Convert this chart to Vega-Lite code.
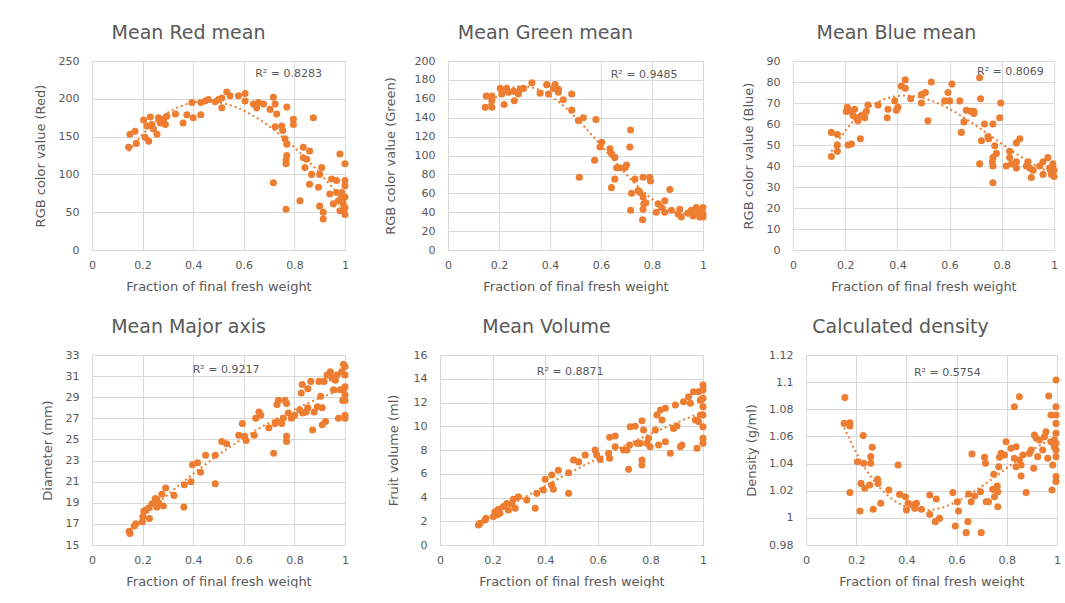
{
  "$schema": "https://vega.github.io/schema/vega-lite/v6.json",
  "background": "white",
  "padding": {"left": 34, "top": 24, "right": 0, "bottom": 0},
  "spacing": 25,
  "datasets": {
    "red": [
      {"x":0.145,"y":136},{"x":0.15,"y":153},{"x":0.17,"y":157},{"x":0.175,"y":141},{"x":0.204,"y":172},{"x":0.217,"y":164},{"x":0.21,"y":149},{"x":0.224,"y":144},{"x":0.23,"y":176},{"x":0.237,"y":166},{"x":0.243,"y":160},{"x":0.257,"y":153},{"x":0.263,"y":175},{"x":0.27,"y":168},{"x":0.283,"y":173},{"x":0.29,"y":166},{"x":0.296,"y":177},{"x":0.33,"y":180},{"x":0.36,"y":168},{"x":0.375,"y":179},{"x":0.395,"y":195},{"x":0.4,"y":175},{"x":0.43,"y":179},{"x":0.43,"y":195},{"x":0.447,"y":197},{"x":0.46,"y":199},{"x":0.487,"y":196},{"x":0.5,"y":199},{"x":0.513,"y":188},{"x":0.533,"y":209},{"x":0.513,"y":201},{"x":0.546,"y":204},{"x":0.579,"y":204},{"x":0.605,"y":207},{"x":0.605,"y":197},{"x":0.638,"y":193},{"x":0.651,"y":188},{"x":0.658,"y":195},{"x":0.678,"y":193},{"x":0.704,"y":186},{"x":0.717,"y":202},{"x":0.724,"y":193},{"x":0.73,"y":180},{"x":0.724,"y":163},{"x":0.75,"y":164},{"x":0.754,"y":158},{"x":0.763,"y":147},{"x":0.77,"y":189},{"x":0.77,"y":140},{"x":0.77,"y":125},{"x":0.767,"y":119},{"x":0.767,"y":114},{"x":0.717,"y":89},{"x":0.767,"y":54},{"x":0.796,"y":173},{"x":0.796,"y":166},{"x":0.822,"y":65},{"x":0.835,"y":136},{"x":0.835,"y":122},{"x":0.842,"y":109},{"x":0.849,"y":120},{"x":0.86,"y":131},{"x":0.868,"y":100},{"x":0.86,"y":87},{"x":0.875,"y":175},{"x":0.895,"y":83},{"x":0.9,"y":100},{"x":0.908,"y":109},{"x":0.9,"y":58},{"x":0.914,"y":50},{"x":0.914,"y":41},{"x":0.94,"y":74},{"x":0.947,"y":94},{"x":0.954,"y":61},{"x":0.967,"y":92},{"x":0.967,"y":76},{"x":0.974,"y":65},{"x":0.98,"y":127},{"x":0.987,"y":70},{"x":0.993,"y":52},{"x":1,"y":114},{"x":1,"y":92},{"x":1,"y":85},{"x":1,"y":70},{"x":1,"y":56},{"x":1,"y":47},{"x":0.993,"y":61},{"x":0.98,"y":52},{"x":0.987,"y":76}
    ],
    "green": [
      {"x":0.146,"y":151},{"x":0.15,"y":163},{"x":0.172,"y":163},{"x":0.172,"y":158},{"x":0.172,"y":151},{"x":0.205,"y":171},{"x":0.211,"y":165},{"x":0.22,"y":154},{"x":0.23,"y":171},{"x":0.237,"y":167},{"x":0.257,"y":168},{"x":0.26,"y":158},{"x":0.276,"y":165},{"x":0.283,"y":170},{"x":0.296,"y":171},{"x":0.329,"y":177},{"x":0.361,"y":166},{"x":0.387,"y":175},{"x":0.394,"y":165},{"x":0.413,"y":171},{"x":0.42,"y":175},{"x":0.433,"y":170},{"x":0.433,"y":167},{"x":0.452,"y":159},{"x":0.485,"y":165},{"x":0.485,"y":148},{"x":0.511,"y":137},{"x":0.531,"y":140},{"x":0.515,"y":77},{"x":0.575,"y":95},{"x":0.58,"y":138},{"x":0.596,"y":109},{"x":0.603,"y":114},{"x":0.635,"y":107},{"x":0.641,"y":102},{"x":0.654,"y":98},{"x":0.661,"y":87},{"x":0.654,"y":75},{"x":0.641,"y":66},{"x":0.674,"y":87},{"x":0.694,"y":87},{"x":0.7,"y":90},{"x":0.716,"y":127},{"x":0.713,"y":109},{"x":0.72,"y":60},{"x":0.716,"y":42},{"x":0.733,"y":75},{"x":0.746,"y":63},{"x":0.752,"y":61},{"x":0.765,"y":56},{"x":0.765,"y":77},{"x":0.768,"y":49},{"x":0.765,"y":43},{"x":0.763,"y":32},{"x":0.791,"y":77},{"x":0.794,"y":73},{"x":0.776,"y":50},{"x":0.817,"y":40},{"x":0.824,"y":49},{"x":0.837,"y":45},{"x":0.85,"y":52},{"x":0.85,"y":40},{"x":0.87,"y":64},{"x":0.876,"y":42},{"x":0.902,"y":38},{"x":0.909,"y":43},{"x":0.915,"y":35},{"x":0.941,"y":39},{"x":0.954,"y":42},{"x":0.961,"y":36},{"x":0.974,"y":45},{"x":0.98,"y":40},{"x":0.987,"y":35},{"x":0.993,"y":42},{"x":1,"y":45},{"x":1,"y":38},{"x":1,"y":35},{"x":0.993,"y":37}
    ],
    "blue": [
      {"x":0.147,"y":44.5},{"x":0.147,"y":56},{"x":0.17,"y":55},{"x":0.17,"y":50},{"x":0.17,"y":47},{"x":0.204,"y":66},{"x":0.208,"y":68},{"x":0.211,"y":50},{"x":0.224,"y":50.5},{"x":0.224,"y":66},{"x":0.23,"y":64},{"x":0.236,"y":67},{"x":0.243,"y":63},{"x":0.249,"y":61.5},{"x":0.262,"y":64},{"x":0.258,"y":53},{"x":0.275,"y":63},{"x":0.281,"y":66},{"x":0.287,"y":69},{"x":0.326,"y":69},{"x":0.364,"y":67},{"x":0.361,"y":63},{"x":0.39,"y":71},{"x":0.396,"y":66.5},{"x":0.402,"y":68},{"x":0.415,"y":78},{"x":0.43,"y":81},{"x":0.43,"y":77},{"x":0.451,"y":72},{"x":0.492,"y":70},{"x":0.492,"y":74},{"x":0.507,"y":75},{"x":0.517,"y":61.5},{"x":0.53,"y":80},{"x":0.581,"y":71},{"x":0.594,"y":75},{"x":0.6,"y":71},{"x":0.609,"y":79},{"x":0.639,"y":71},{"x":0.645,"y":56},{"x":0.655,"y":61},{"x":0.664,"y":66.5},{"x":0.683,"y":66},{"x":0.693,"y":66},{"x":0.693,"y":65},{"x":0.715,"y":82},{"x":0.719,"y":72},{"x":0.715,"y":41},{"x":0.722,"y":52},{"x":0.734,"y":60},{"x":0.747,"y":54},{"x":0.75,"y":53},{"x":0.766,"y":60},{"x":0.773,"y":49.6},{"x":0.766,"y":44},{"x":0.764,"y":42},{"x":0.766,"y":40},{"x":0.766,"y":32},{"x":0.779,"y":46},{"x":0.792,"y":63},{"x":0.796,"y":70},{"x":0.817,"y":40},{"x":0.83,"y":47},{"x":0.83,"y":44},{"x":0.837,"y":41},{"x":0.856,"y":42},{"x":0.856,"y":51},{"x":0.869,"y":53},{"x":0.856,"y":39},{"x":0.894,"y":40},{"x":0.9,"y":42},{"x":0.907,"y":39},{"x":0.913,"y":34.5},{"x":0.92,"y":38},{"x":0.945,"y":40},{"x":0.958,"y":42},{"x":0.958,"y":36},{"x":0.977,"y":44},{"x":0.983,"y":39},{"x":0.99,"y":36},{"x":0.996,"y":41},{"x":1,"y":38},{"x":1,"y":35},{"x":0.996,"y":39}
    ],
    "major": [
      {"x":0.147,"y":16.3},{"x":0.15,"y":16.1},{"x":0.167,"y":16.8},{"x":0.173,"y":17.0},{"x":0.199,"y":17.2},{"x":0.201,"y":17.7},{"x":0.205,"y":18.2},{"x":0.212,"y":18.3},{"x":0.224,"y":18.5},{"x":0.227,"y":17.5},{"x":0.237,"y":18.9},{"x":0.25,"y":19.4},{"x":0.256,"y":19.3},{"x":0.256,"y":18.6},{"x":0.263,"y":19.0},{"x":0.276,"y":19.8},{"x":0.282,"y":18.7},{"x":0.291,"y":20.4},{"x":0.324,"y":19.7},{"x":0.363,"y":18.6},{"x":0.365,"y":20.7},{"x":0.391,"y":21.0},{"x":0.397,"y":22.6},{"x":0.417,"y":22.8},{"x":0.429,"y":21.9},{"x":0.449,"y":23.5},{"x":0.487,"y":23.5},{"x":0.487,"y":20.8},{"x":0.513,"y":24.8},{"x":0.532,"y":24.6},{"x":0.58,"y":25.4},{"x":0.594,"y":26.5},{"x":0.603,"y":25.3},{"x":0.609,"y":24.9},{"x":0.641,"y":25.4},{"x":0.647,"y":27.0},{"x":0.66,"y":27.6},{"x":0.667,"y":27.3},{"x":0.699,"y":26.1},{"x":0.718,"y":23.7},{"x":0.724,"y":26.5},{"x":0.731,"y":26.7},{"x":0.731,"y":28.3},{"x":0.737,"y":28.7},{"x":0.75,"y":26.5},{"x":0.756,"y":27.0},{"x":0.763,"y":28.7},{"x":0.769,"y":25.3},{"x":0.769,"y":24.8},{"x":0.769,"y":28.4},{"x":0.776,"y":27.5},{"x":0.788,"y":27.0},{"x":0.801,"y":27.3},{"x":0.821,"y":27.8},{"x":0.827,"y":29.4},{"x":0.831,"y":30.2},{"x":0.833,"y":27.5},{"x":0.846,"y":27.6},{"x":0.853,"y":28.0},{"x":0.853,"y":29.8},{"x":0.865,"y":30.5},{"x":0.872,"y":25.9},{"x":0.878,"y":27.6},{"x":0.891,"y":28.1},{"x":0.897,"y":30.5},{"x":0.904,"y":29.1},{"x":0.91,"y":28.0},{"x":0.91,"y":26.4},{"x":0.917,"y":30.5},{"x":0.923,"y":26.7},{"x":0.929,"y":31.1},{"x":0.942,"y":31.4},{"x":0.949,"y":30.8},{"x":0.955,"y":29.7},{"x":0.962,"y":30.6},{"x":0.968,"y":31.1},{"x":0.974,"y":27.0},{"x":0.981,"y":29.7},{"x":0.987,"y":31.4},{"x":0.991,"y":28.7},{"x":0.994,"y":32.1},{"x":1,"y":31.9},{"x":1,"y":31.1},{"x":1,"y":30.0},{"x":1,"y":29.2},{"x":1,"y":28.7},{"x":1,"y":27.3},{"x":1,"y":27.0},{"x":0.994,"y":29.7}
    ],
    "volume": [
      {"x":0.146,"y":1.68},{"x":0.152,"y":1.82},{"x":0.171,"y":2.1},{"x":0.175,"y":2.25},{"x":0.203,"y":2.39},{"x":0.209,"y":2.8},{"x":0.216,"y":2.53},{"x":0.222,"y":3.0},{"x":0.228,"y":2.67},{"x":0.241,"y":3.23},{"x":0.254,"y":3.5},{"x":0.26,"y":2.95},{"x":0.273,"y":3.5},{"x":0.279,"y":3.85},{"x":0.286,"y":3.09},{"x":0.298,"y":4.07},{"x":0.33,"y":3.79},{"x":0.362,"y":3.09},{"x":0.368,"y":4.35},{"x":0.393,"y":4.63},{"x":0.4,"y":5.53},{"x":0.425,"y":5.9},{"x":0.425,"y":5.05},{"x":0.431,"y":4.69},{"x":0.45,"y":6.3},{"x":0.489,"y":6.09},{"x":0.489,"y":4.35},{"x":0.508,"y":7.16},{"x":0.527,"y":7.0},{"x":0.552,"y":7.58},{"x":0.59,"y":8.0},{"x":0.596,"y":7.58},{"x":0.609,"y":7.21},{"x":0.641,"y":7.72},{"x":0.645,"y":7.3},{"x":0.645,"y":9.07},{"x":0.666,"y":9.18},{"x":0.666,"y":8.28},{"x":0.698,"y":8.0},{"x":0.711,"y":8.0},{"x":0.717,"y":6.37},{"x":0.721,"y":8.42},{"x":0.723,"y":9.96},{"x":0.742,"y":10.0},{"x":0.749,"y":8.56},{"x":0.761,"y":8.56},{"x":0.768,"y":10.47},{"x":0.768,"y":7.16},{"x":0.768,"y":6.74},{"x":0.774,"y":9.68},{"x":0.787,"y":8.56},{"x":0.793,"y":8.98},{"x":0.799,"y":8.28},{"x":0.819,"y":9.68},{"x":0.825,"y":10.95},{"x":0.831,"y":8.42},{"x":0.838,"y":11.37},{"x":0.844,"y":10.53},{"x":0.857,"y":8.7},{"x":0.857,"y":11.51},{"x":0.876,"y":7.72},{"x":0.888,"y":9.82},{"x":0.895,"y":11.79},{"x":0.901,"y":10.02},{"x":0.914,"y":8.28},{"x":0.92,"y":8.42},{"x":0.926,"y":12.07},{"x":0.945,"y":12.49},{"x":0.952,"y":11.93},{"x":0.964,"y":12.91},{"x":0.971,"y":10.53},{"x":0.977,"y":8.14},{"x":0.983,"y":10.39},{"x":0.99,"y":10.95},{"x":1,"y":13.47},{"x":1,"y":13.05},{"x":1,"y":12.35},{"x":1,"y":11.65},{"x":1,"y":10.95},{"x":1,"y":9.96},{"x":1,"y":8.98},{"x":1,"y":8.56},{"x":0.99,"y":12.2},{"x":0.983,"y":12.9}
    ],
    "density": [
      {"x":0.155,"y":1.0886},{"x":0.152,"y":1.0696},{"x":0.175,"y":1.0701},{"x":0.175,"y":1.0677},{"x":0.175,"y":1.0186},{"x":0.205,"y":1.0414},{"x":0.215,"y":1.005},{"x":0.219,"y":1.0254},{"x":0.228,"y":1.0606},{"x":0.23,"y":1.0402},{"x":0.234,"y":1.0218},{"x":0.254,"y":1.0242},{"x":0.258,"y":1.0402},{"x":0.258,"y":1.0451},{"x":0.264,"y":1.052},{"x":0.268,"y":1.0063},{"x":0.285,"y":1.0284},{"x":0.287,"y":1.0254},{"x":0.298,"y":1.0107},{"x":0.33,"y":1.0205},{"x":0.367,"y":1.0389},{"x":0.373,"y":1.0173},{"x":0.396,"y":1.0156},{"x":0.4,"y":1.0058},{"x":0.407,"y":1.0107},{"x":0.426,"y":1.0095},{"x":0.433,"y":1.007},{"x":0.44,"y":1.0107},{"x":0.46,"y":1.0063},{"x":0.493,"y":1.0168},{"x":0.493,"y":1.0026},{"x":0.519,"y":1.0139},{"x":0.515,"y":0.9972},{"x":0.532,"y":0.9996},{"x":0.585,"y":1.0186},{"x":0.595,"y":0.994},{"x":0.603,"y":1.0119},{"x":0.608,"y":1.005},{"x":0.645,"y":0.9972},{"x":0.638,"y":0.9891},{"x":0.648,"y":1.0176},{"x":0.658,"y":1.0119},{"x":0.661,"y":1.047},{"x":0.672,"y":1.0161},{"x":0.698,"y":0.9891},{"x":0.695,"y":1.0193},{"x":0.711,"y":1.0446},{"x":0.715,"y":1.0402},{"x":0.718,"y":1.0119},{"x":0.727,"y":1.0119},{"x":0.748,"y":1.0321},{"x":0.744,"y":1.021},{"x":0.751,"y":1.0156},{"x":0.762,"y":1.0235},{"x":0.764,"y":1.0193},{"x":0.764,"y":1.0082},{"x":0.768,"y":1.0377},{"x":0.771,"y":1.0446},{"x":0.777,"y":1.0475},{"x":0.791,"y":1.0463},{"x":0.797,"y":1.0561},{"x":0.817,"y":1.0512},{"x":0.83,"y":1.0819},{"x":0.837,"y":1.0524},{"x":0.83,"y":1.0439},{"x":0.837,"y":1.0377},{"x":0.85,"y":1.0893},{"x":0.85,"y":1.0426},{"x":0.857,"y":1.0389},{"x":0.857,"y":1.0308},{"x":0.864,"y":1.0463},{"x":0.877,"y":1.0186},{"x":0.89,"y":1.0475},{"x":0.897,"y":1.05},{"x":0.907,"y":1.0365},{"x":0.91,"y":1.061},{"x":0.917,"y":1.0586},{"x":0.923,"y":1.0451},{"x":0.93,"y":1.0574},{"x":0.943,"y":1.05},{"x":0.95,"y":1.0598},{"x":0.956,"y":1.0635},{"x":0.963,"y":1.0439},{"x":0.967,"y":1.0898},{"x":0.976,"y":1.0561},{"x":0.976,"y":1.0758},{"x":0.98,"y":1.0205},{"x":0.983,"y":1.0389},{"x":0.989,"y":1.0574},{"x":0.996,"y":1.1016},{"x":0.996,"y":1.0819},{"x":0.996,"y":1.0758},{"x":0.996,"y":1.0696},{"x":0.996,"y":1.0623},{"x":0.996,"y":1.0549},{"x":0.996,"y":1.05},{"x":0.996,"y":1.0451},{"x":0.996,"y":1.0304},{"x":0.996,"y":1.0267},{"x":0.989,"y":1.0524}
    ]
  },
  "vconcat": [
    {
      "spacing": 35,
      "hconcat": [
        {
          "width": 253, "height": 189,
          "title": {"text": "Mean Red mean", "dx": -30},
          "layer": [
            {"data": {"name": "red"}, "mark": {"type": "circle", "size": 50, "color": "#ED7D31", "opacity": 1},
             "encoding": {
               "x": {"field": "x", "type": "quantitative", "scale": {"domain": [0, 1], "nice": false}, "axis": {"title": "Fraction of final fresh weight", "values": [0, 0.2, 0.4, 0.6, 0.8, 1], "tickCount": 20, "format": "~g"}},
               "y": {"field": "y", "type": "quantitative", "scale": {"domain": [0, 250], "nice": false}, "axis": {"title": "RGB color value (Red)", "values": [0, 50, 100, 150, 200, 250], "tickCount": 20, "minExtent": 45, "maxExtent": 45}}
             }},
            {"data": {"name": "red"}, "transform": [{"regression": "y", "on": "x", "method": "poly", "order": 3}],
             "mark": {"type": "line", "color": "#ED7D31", "strokeDash": [2, 3], "strokeWidth": 2},
             "encoding": {"x": {"field": "x", "type": "quantitative"}, "y": {"field": "y", "type": "quantitative"}}},
            {"data": {"values": [{"label": "R² = 0.8283"}]}, "mark": {"type": "text", "fontSize": 11, "color": "#595959", "font": "DejaVu Sans"},
             "encoding": {"x": {"datum": 0.777}, "y": {"datum": 233}, "text": {"field": "label"}}}
          ]
        },
        {
          "width": 255, "height": 189,
          "title": {"text": "Mean Green mean", "dx": -30},
          "layer": [
            {"data": {"name": "green"}, "mark": {"type": "circle", "size": 50, "color": "#ED7D31", "opacity": 1},
             "encoding": {
               "x": {"field": "x", "type": "quantitative", "scale": {"domain": [0, 1], "nice": false}, "axis": {"title": "Fraction of final fresh weight", "values": [0, 0.2, 0.4, 0.6, 0.8, 1], "tickCount": 20, "format": "~g"}},
               "y": {"field": "y", "type": "quantitative", "scale": {"domain": [0, 200], "nice": false}, "axis": {"title": "RGB color value (Green)", "values": [0, 20, 40, 60, 80, 100, 120, 140, 160, 180, 200], "tickCount": 20, "minExtent": 51, "maxExtent": 51}}
             }},
            {"data": {"name": "green"}, "transform": [{"regression": "y", "on": "x", "method": "poly", "order": 3}],
             "mark": {"type": "line", "color": "#ED7D31", "strokeDash": [2, 3], "strokeWidth": 2},
             "encoding": {"x": {"field": "x", "type": "quantitative"}, "y": {"field": "y", "type": "quantitative"}}},
            {"data": {"values": [{"label": "R² = 0.9485"}]}, "mark": {"type": "text", "fontSize": 11, "color": "#595959", "font": "DejaVu Sans"},
             "encoding": {"x": {"datum": 0.769}, "y": {"datum": 185}, "text": {"field": "label"}}}
          ]
        },
        {
          "width": 261, "height": 189,
          "title": {"text": "Mean Blue mean", "dx": -27},
          "layer": [
            {"data": {"name": "blue"}, "mark": {"type": "circle", "size": 50, "color": "#ED7D31", "opacity": 1},
             "encoding": {
               "x": {"field": "x", "type": "quantitative", "scale": {"domain": [0, 1], "nice": false}, "axis": {"title": "Fraction of final fresh weight", "values": [0, 0.2, 0.4, 0.6, 0.8, 1], "tickCount": 20, "format": "~g"}},
               "y": {"field": "y", "type": "quantitative", "scale": {"domain": [0, 90], "nice": false}, "axis": {"title": "RGB color value (Blue)", "values": [0, 10, 20, 30, 40, 50, 60, 70, 80, 90], "tickCount": 20, "minExtent": 38, "maxExtent": 38}}
             }},
            {"data": {"name": "blue"}, "transform": [{"regression": "y", "on": "x", "method": "poly", "order": 3}],
             "mark": {"type": "line", "color": "#ED7D31", "strokeDash": [2, 3], "strokeWidth": 2},
             "encoding": {"x": {"field": "x", "type": "quantitative"}, "y": {"field": "y", "type": "quantitative"}}},
            {"data": {"values": [{"label": "R² = 0.8069"}]}, "mark": {"type": "text", "fontSize": 11, "color": "#595959", "font": "DejaVu Sans"},
             "encoding": {"x": {"datum": 0.833}, "y": {"datum": 84.8}, "text": {"field": "label"}}}
          ]
        }
      ]
    },
    {
      "spacing": 38,
      "hconcat": [
        {
          "width": 253, "height": 190,
          "title": {"text": "Mean Major axis", "dx": -30},
          "layer": [
            {"data": {"name": "major"}, "mark": {"type": "circle", "size": 50, "color": "#ED7D31", "opacity": 1},
             "encoding": {
               "x": {"field": "x", "type": "quantitative", "scale": {"domain": [0, 1], "nice": false}, "axis": {"title": "Fraction of final fresh weight", "values": [0, 0.2, 0.4, 0.6, 0.8, 1], "tickCount": 20, "format": "~g"}},
               "y": {"field": "y", "type": "quantitative", "scale": {"domain": [15, 33], "nice": false, "zero": false}, "axis": {"title": "Diameter (mm)", "values": [15, 17, 19, 21, 23, 25, 27, 29, 31, 33], "tickCount": 20, "minExtent": 38, "maxExtent": 38}}
             }},
            {"data": {"name": "major"}, "transform": [{"regression": "y", "on": "x", "method": "poly", "order": 2}],
             "mark": {"type": "line", "color": "#ED7D31", "strokeDash": [2, 3], "strokeWidth": 2},
             "encoding": {"x": {"field": "x", "type": "quantitative"}, "y": {"field": "y", "type": "quantitative"}}},
            {"data": {"values": [{"label": "R² = 0.9217"}]}, "mark": {"type": "text", "fontSize": 11, "color": "#595959", "font": "DejaVu Sans"},
             "encoding": {"x": {"datum": 0.53}, "y": {"datum": 31.58}, "text": {"field": "label"}}}
          ]
        },
        {
          "width": 263, "height": 190,
          "title": {"text": "Mean Volume", "dx": -25},
          "layer": [
            {"data": {"name": "volume"}, "mark": {"type": "circle", "size": 50, "color": "#ED7D31", "opacity": 1},
             "encoding": {
               "x": {"field": "x", "type": "quantitative", "scale": {"domain": [0, 1], "nice": false}, "axis": {"title": "Fraction of final fresh weight", "values": [0, 0.2, 0.4, 0.6, 0.8, 1], "tickCount": 20, "format": "~g"}},
               "y": {"field": "y", "type": "quantitative", "scale": {"domain": [0, 16], "nice": false}, "axis": {"title": "Fruit volume (ml)", "values": [0, 2, 4, 6, 8, 10, 12, 14, 16], "tickCount": 20, "minExtent": 40, "maxExtent": 40}}
             }},
            {"data": {"name": "volume"}, "transform": [{"regression": "y", "on": "x", "method": "poly", "order": 2}],
             "mark": {"type": "line", "color": "#ED7D31", "strokeDash": [2, 3], "strokeWidth": 2},
             "encoding": {"x": {"field": "x", "type": "quantitative"}, "y": {"field": "y", "type": "quantitative"}}},
            {"data": {"values": [{"label": "R² = 0.8871"}]}, "mark": {"type": "text", "fontSize": 11, "color": "#595959", "font": "DejaVu Sans"},
             "encoding": {"x": {"datum": 0.495}, "y": {"datum": 14.6}, "text": {"field": "label"}}}
          ]
        },
        {
          "width": 251, "height": 190,
          "title": {"text": "Calculated density", "dx": -31},
          "layer": [
            {"data": {"name": "density"}, "mark": {"type": "circle", "size": 50, "color": "#ED7D31", "opacity": 1},
             "encoding": {
               "x": {"field": "x", "type": "quantitative", "scale": {"domain": [0, 1], "nice": false}, "axis": {"title": "Fraction of final fresh weight", "values": [0, 0.2, 0.4, 0.6, 0.8, 1], "tickCount": 20, "format": "~g"}},
               "y": {"field": "y", "type": "quantitative", "scale": {"domain": [0.98, 1.12], "nice": false, "zero": false}, "axis": {"title": "Density (g/ml)", "values": [0.98, 1, 1.02, 1.04, 1.06, 1.08, 1.1, 1.12], "tickCount": 20, "format": "~g", "minExtent": 48, "maxExtent": 48}}
             }},
            {"data": {"name": "density"}, "transform": [{"regression": "y", "on": "x", "method": "poly", "order": 3}],
             "mark": {"type": "line", "color": "#ED7D31", "strokeDash": [2, 3], "strokeWidth": 2},
             "encoding": {"x": {"field": "x", "type": "quantitative"}, "y": {"field": "y", "type": "quantitative"}}},
            {"data": {"values": [{"label": "R² = 0.5754"}]}, "mark": {"type": "text", "fontSize": 11, "color": "#595959", "font": "DejaVu Sans"},
             "encoding": {"x": {"datum": 0.563}, "y": {"datum": 1.107}, "text": {"field": "label"}}}
          ]
        }
      ]
    }
  ],
  "config": {
    "font": "DejaVu Sans",
    "view": {"stroke": null},
    "axis": {
      "grid": true, "gridColor": "#d9d9d9", "gridWidth": 1,
      "domain": false, "ticks": false, "labelOverlap": false,
      "labelColor": "#595959", "labelFont": "DejaVu Sans", "labelFontSize": 11,
      "titleColor": "#595959", "titleFont": "DejaVu Sans", "titleFontSize": 13, "titleFontWeight": "normal"
    },
    "axisX": {"labelPadding": 9, "titlePadding": 10, "labelFlush": false},
    "axisY": {"labelPadding": 13, "titlePadding": 0},
    "title": {"font": "DejaVu Sans", "fontSize": 19, "fontWeight": "normal", "color": "#595959", "anchor": "middle", "baseline": "alphabetic", "offset": 12}
  }
}
